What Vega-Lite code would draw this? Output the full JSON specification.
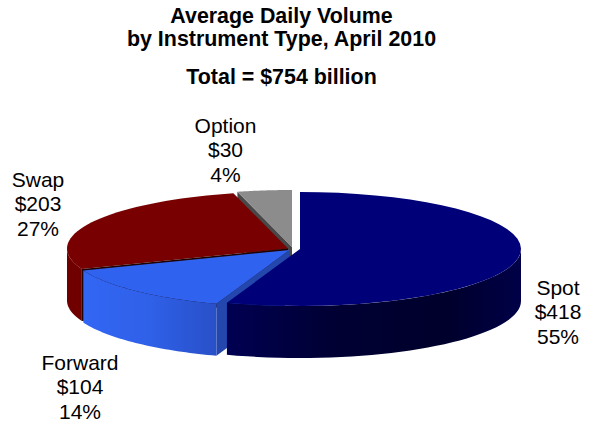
{
  "$schema": "https://vega.github.io/schema/vega-lite/v6.json",
  "description": "Tilted, exploded pie of FX turnover: every rim, wall and cut face is projected from the slice values.",
  "width": 598,
  "height": 425,
  "padding": 0,
  "autosize": "none",
  "background": "white",
  "view": {"stroke": null},
  "title": {
    "text": ["Average Daily Volume", "by Instrument Type, April 2010"],
    "subtitle": "Total = $754 billion",
    "orient": "top",
    "anchor": "start",
    "frame": "group",
    "align": "center",
    "dx": 281.5,
    "offset": -88,
    "font": "Liberation Sans",
    "fontSize": 21.4,
    "fontWeight": "bold",
    "lineHeight": 23.7,
    "color": "black",
    "subtitleFont": "Liberation Sans",
    "subtitleFontSize": 21.4,
    "subtitleFontWeight": "bold",
    "subtitleColor": "black",
    "subtitlePadding": 16
  },
  "data": {
    "values": [
      {"instrument": "Spot", "value": 418, "share": 55},
      {"instrument": "Forward", "value": 104, "share": 14},
      {"instrument": "Swap", "value": 203, "share": 27},
      {"instrument": "Option", "value": 30, "share": 4}
    ]
  },
  "transform": [
    {"joinaggregate": [{"op": "sum", "field": "value", "as": "total"}]},
    {"window": [{"op": "sum", "field": "value", "as": "cum"}], "frame": [null, 0], "ignorePeers": true},
    {"calculate": "2*PI*datum.cum/datum.total", "as": "t1"},
    {"calculate": "datum.t1-2*PI*datum.value/datum.total", "as": "t0"},
    {"calculate": "{'Spot':300,'Forward':289.5,'Swap':288,'Option':292}[datum.instrument]", "as": "cx"},
    {"calculate": "{'Spot':249,'Forward':250,'Swap':248.5,'Option':247}[datum.instrument]", "as": "cy"},
    {"calculate": "[-1,0,0.025,0.05,0.075,0.1,0.125,0.15,0.175,0.2,0.225,0.25,0.275,0.3,0.325,0.35,0.375,0.4,0.425,0.45,0.475,0.5,0.525,0.55,0.575,0.6,0.625,0.65,0.675,0.7,0.725,0.75,0.775,0.8,0.825,0.85,0.875,0.9,0.925,0.95,0.975,1]", "as": "s"},
    {"flatten": ["s"]},
    {"calculate": "datum.t0+(datum.t1-datum.t0)*datum.s", "as": "t"},
    {"calculate": "datum.s<0?datum.cx:datum.cx+221*sin(datum.t)", "as": "px"},
    {"calculate": "datum.s<0?datum.cy:datum.cy-57*cos(datum.t)", "as": "py"},
    {"calculate": "max(datum.t0,PI/2)+(min(datum.t1,3*PI/2)-max(datum.t0,PI/2))*datum.s", "as": "tw"},
    {"calculate": "datum.cx+221*sin(datum.tw)", "as": "wx"},
    {"calculate": "datum.cy-57*cos(datum.tw)", "as": "wy"},
    {"calculate": "datum.wy+52", "as": "wy2"},
    {"calculate": "round(datum.s/0.025)", "as": "corner"},
    {"calculate": "datum.corner==0||datum.corner==3?datum.cx:datum.cx+221*sin(datum.t0)", "as": "cutx"},
    {"calculate": "(datum.corner==0||datum.corner==3?datum.cy:datum.cy-57*cos(datum.t0))+(datum.corner>=2?52:0)", "as": "cuty"}
  ],
  "layer": [
    {
      "transform": [{"filter": "datum.instrument=='Option'&&datum.s>=0&&datum.s<0.1"}],
      "mark": {"type": "line", "fill": "#484848", "strokeWidth": 0},
      "encoding": {
        "x": {"field": "cutx", "type": "quantitative", "scale": {"domain": [0, 598], "nice": false}, "axis": null},
        "y": {"field": "cuty", "type": "quantitative", "scale": {"domain": [425, 0], "nice": false}, "axis": null},
        "order": {"field": "corner"}
      }
    },
    {
      "transform": [{"filter": "datum.instrument=='Option'"}],
      "mark": {"type": "line", "fill": "#8c8c8c", "strokeWidth": 0},
      "encoding": {
        "x": {"field": "px", "type": "quantitative", "scale": {"domain": [0, 598], "nice": false}, "axis": null},
        "y": {"field": "py", "type": "quantitative", "scale": {"domain": [425, 0], "nice": false}, "axis": null},
        "order": {"field": "s"}
      }
    },
    {
      "transform": [{"filter": "datum.instrument=='Swap'&&datum.s>=0"}],
      "mark": {"type": "area", "fill": "#700000", "strokeWidth": 0},
      "encoding": {
        "x": {"field": "wx", "type": "quantitative", "scale": {"domain": [0, 598], "nice": false}, "axis": null},
        "y": {"field": "wy", "type": "quantitative", "scale": {"domain": [425, 0], "nice": false}, "axis": null},
        "y2": {"field": "wy2"}
      }
    },
    {
      "transform": [{"filter": "datum.instrument=='Swap'"}],
      "mark": {"type": "line", "fill": "#780000", "strokeWidth": 0},
      "encoding": {
        "x": {"field": "px", "type": "quantitative", "scale": {"domain": [0, 598], "nice": false}, "axis": null},
        "y": {"field": "py", "type": "quantitative", "scale": {"domain": [425, 0], "nice": false}, "axis": null},
        "order": {"field": "s"}
      }
    },
    {
      "transform": [{"filter": "datum.instrument=='Swap'&&datum.s>=0&&datum.s<0.1"}],
      "mark": {"type": "line", "fill": "#200000", "strokeWidth": 0},
      "encoding": {
        "x": {"field": "cutx", "type": "quantitative", "scale": {"domain": [0, 598], "nice": false}, "axis": null},
        "y": {"field": "cuty", "type": "quantitative", "scale": {"domain": [425, 0], "nice": false}, "axis": null},
        "order": {"field": "corner"}
      }
    },
    {
      "transform": [{"filter": "datum.instrument=='Forward'&&datum.s>=0&&datum.s<0.1"}],
      "mark": {"type": "line", "fill": "#2347ad", "strokeWidth": 0},
      "encoding": {
        "x": {"field": "cutx", "type": "quantitative", "scale": {"domain": [0, 598], "nice": false}, "axis": null},
        "y": {"field": "cuty", "type": "quantitative", "scale": {"domain": [425, 0], "nice": false}, "axis": null},
        "order": {"field": "corner"}
      }
    },
    {
      "transform": [{"filter": "datum.instrument=='Forward'&&datum.s>=0"}],
      "mark": {
        "type": "area",
        "strokeWidth": 0,
        "fill": {
          "gradient": "linear", "x1": 0, "y1": 0, "x2": 1, "y2": 0,
          "stops": [
            {"offset": 0, "color": "#3266f4"},
            {"offset": 0.5, "color": "#2f60e8"},
            {"offset": 1, "color": "#2850c8"}
          ]
        }
      },
      "encoding": {
        "x": {"field": "wx", "type": "quantitative", "scale": {"domain": [0, 598], "nice": false}, "axis": null},
        "y": {"field": "wy", "type": "quantitative", "scale": {"domain": [425, 0], "nice": false}, "axis": null},
        "y2": {"field": "wy2"}
      }
    },
    {
      "transform": [{"filter": "datum.instrument=='Forward'"}],
      "mark": {"type": "line", "fill": "#2f62ee", "strokeWidth": 0},
      "encoding": {
        "x": {"field": "px", "type": "quantitative", "scale": {"domain": [0, 598], "nice": false}, "axis": null},
        "y": {"field": "py", "type": "quantitative", "scale": {"domain": [425, 0], "nice": false}, "axis": null},
        "order": {"field": "s"}
      }
    },
    {
      "transform": [{"filter": "datum.instrument=='Spot'&&datum.s>=0"}],
      "mark": {
        "type": "area",
        "strokeWidth": 0,
        "fill": {
          "gradient": "linear", "x1": 0, "y1": 0, "x2": 1, "y2": 0,
          "stops": [
            {"offset": 0, "color": "#000052"},
            {"offset": 0.35, "color": "#000034"},
            {"offset": 0.75, "color": "#00002c"},
            {"offset": 1, "color": "#000048"}
          ]
        }
      },
      "encoding": {
        "x": {"field": "wx", "type": "quantitative", "scale": {"domain": [0, 598], "nice": false}, "axis": null},
        "y": {"field": "wy", "type": "quantitative", "scale": {"domain": [425, 0], "nice": false}, "axis": null},
        "y2": {"field": "wy2"}
      }
    },
    {
      "transform": [{"filter": "datum.instrument=='Spot'"}],
      "mark": {"type": "line", "fill": "#000078", "strokeWidth": 0},
      "encoding": {
        "x": {"field": "px", "type": "quantitative", "scale": {"domain": [0, 598], "nice": false}, "axis": null},
        "y": {"field": "py", "type": "quantitative", "scale": {"domain": [425, 0], "nice": false}, "axis": null},
        "order": {"field": "s"}
      }
    },
    {
      "transform": [
        {"filter": "datum.s<0"},
        {"calculate": "{'Spot':558,'Forward':80,'Swap':38,'Option':225.5}[datum.instrument]", "as": "labelX"},
        {"calculate": "{'Spot':295,'Forward':370,'Swap':187,'Option':133}[datum.instrument]", "as": "labelY"},
        {"calculate": "datum.instrument+'\\n$'+datum.value+'\\n'+datum.share+'%'", "as": "label"}
      ],
      "mark": {
        "type": "text",
        "font": "Liberation Sans",
        "fontSize": 21,
        "lineHeight": 24.3,
        "lineBreak": "\n",
        "align": "center",
        "baseline": "alphabetic",
        "color": "black"
      },
      "encoding": {
        "x": {"field": "labelX", "type": "quantitative", "scale": {"domain": [0, 598], "nice": false}, "axis": null},
        "y": {"field": "labelY", "type": "quantitative", "scale": {"domain": [425, 0], "nice": false}, "axis": null},
        "text": {"field": "label"}
      }
    }
  ]
}
